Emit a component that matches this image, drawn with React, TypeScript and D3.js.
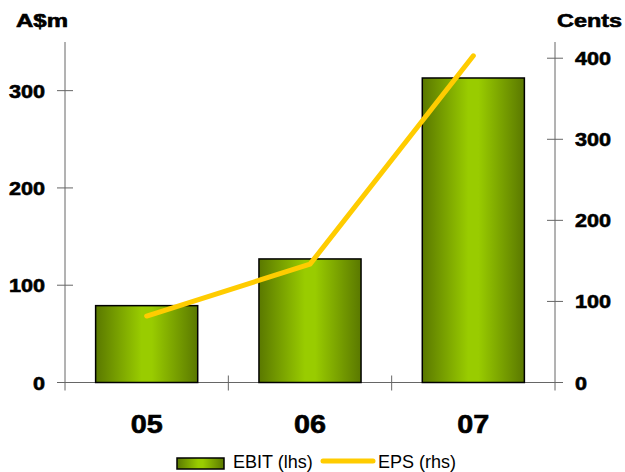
import React, { useEffect, useRef } from "react";
import * as d3 from "d3";

const years = ["05", "06", "07"];
const ebit = [79, 127, 313];
const eps = [82, 146, 403];
const leftTicks = [0, 100, 200, 300];
const rightTicks = [0, 100, 200, 300, 400];

export default function App() {
  const ref = useRef<SVGSVGElement>(null);

  useEffect(() => {
    const svg = d3.select(ref.current);
    svg.selectAll("*").remove();

    const x0 = 65, x1 = 555, y0 = 382.5, yTop = 42;
    const font = "'Liberation Sans', Arial, sans-serif";
    const axisColor = "#666";
    // wide heavy labels, like Arial Black
    const heavy = (sel: any, size: number) =>
      sel.style("font-family", font).style("font-weight", "bold").style("font-size", size + "px")
        .attr("stroke", "#000").attr("stroke-width", 0.6).attr("lengthAdjust", "spacingAndGlyphs");

    const x = d3.scaleBand().domain(years).range([x0, x1]).paddingInner(0.375).paddingOuter(0.1875);
    const yL = d3.scaleLinear().domain([0, 350]).range([y0, yTop]);
    const yR = d3.scaleLinear().domain([0, 420]).range([y0, yTop]);

    const defs = svg.append("defs");
    const grad = defs.append("linearGradient").attr("id", "barGrad").attr("x1", "0").attr("x2", "1").attr("y1", "0").attr("y2", "0");
    grad.append("stop").attr("offset", "0%").attr("stop-color", "#5a7800");
    grad.append("stop").attr("offset", "45%").attr("stop-color", "#99cc00");
    grad.append("stop").attr("offset", "55%").attr("stop-color", "#99cc00");
    grad.append("stop").attr("offset", "100%").attr("stop-color", "#5a7800");

    // axis lines
    svg.append("line").attr("x1", x0).attr("x2", x0).attr("y1", yTop).attr("y2", y0 + 8).attr("stroke", axisColor);
    svg.append("line").attr("x1", x1).attr("x2", x1).attr("y1", yTop).attr("y2", y0 + 8).attr("stroke", axisColor);
    svg.append("line").attr("x1", x0 - 8).attr("x2", x1 + 8).attr("y1", y0).attr("y2", y0).attr("stroke", axisColor);

    // bars
    svg.selectAll(".bar").data(years).join("rect").attr("class", "bar")
      .attr("x", d => x(d)!)
      .attr("y", (d, i) => yL(ebit[i]))
      .attr("width", x.bandwidth())
      .attr("height", (d, i) => y0 - yL(ebit[i]))
      .attr("fill", "url(#barGrad)")
      .attr("stroke", "#000").attr("stroke-width", 1.5);

    // left ticks
    svg.selectAll(".lt").data(leftTicks).join("line").attr("class", "lt")
      .attr("x1", x0 - 8).attr("x2", x0 + 8).attr("y1", d => yL(d)).attr("y2", d => yL(d)).attr("stroke", axisColor);
    heavy(svg.selectAll(".ltl").data(leftTicks).join("text").attr("class", "ltl")
      .attr("x", 45).attr("y", d => yL(d) + 7).attr("text-anchor", "end")
      .attr("textLength", d => String(d).length * 12), 18.5).text(d => d);

    // right ticks
    svg.selectAll(".rt").data(rightTicks).join("line").attr("class", "rt")
      .attr("x1", x1 - 8).attr("x2", x1 + 8).attr("y1", d => yR(d)).attr("y2", d => yR(d)).attr("stroke", axisColor);
    heavy(svg.selectAll(".rtl").data(rightTicks).join("text").attr("class", "rtl")
      .attr("x", 575).attr("y", d => yR(d) + 7).attr("text-anchor", "start")
      .attr("textLength", d => String(d).length * 12), 18.5).text(d => d);

    // category ticks between bands
    const sep = years.slice(1).map(d => x(d)! - x.step() * x.paddingInner() / 2);
    svg.selectAll(".ct").data(sep).join("line").attr("class", "ct")
      .attr("x1", d => d).attr("x2", d => d).attr("y1", y0 - 7).attr("y2", y0 + 8).attr("stroke", axisColor);
    heavy(svg.selectAll(".cl").data(years).join("text").attr("class", "cl")
      .attr("x", d => x(d)! + x.bandwidth() / 2 - 16).attr("y", 433)
      .attr("textLength", 32), 25).text(d => d);

    // EPS line
    const line = d3.line<number>()
      .x((d, i) => x(years[i])! + x.bandwidth() / 2)
      .y(d => yR(d));
    svg.append("path").attr("d", line(eps)).attr("fill", "none")
      .attr("stroke", "#ffcc00").attr("stroke-width", 5).attr("stroke-linecap", "round").attr("stroke-linejoin", "round");

    // axis titles
    heavy(svg.append("text").attr("x", 16).attr("y", 27).attr("textLength", 52), 18.5).text("A$m");
    heavy(svg.append("text").attr("x", 557).attr("y", 27).attr("textLength", 65), 18.5).text("Cents");

    // legend
    svg.append("rect").attr("x", 177).attr("y", 458).attr("width", 47).attr("height", 11)
      .attr("fill", "url(#barGrad)").attr("stroke", "#000").attr("stroke-width", 1.5);
    svg.append("text").attr("x", 233).attr("y", 468).style("font-family", font).style("font-size", "18px").text("EBIT (lhs)");
    svg.append("line").attr("x1", 323).attr("x2", 373).attr("y1", 461).attr("y2", 461)
      .attr("stroke", "#ffcc00").attr("stroke-width", 5).attr("stroke-linecap", "round");
    svg.append("text").attr("x", 378).attr("y", 468).style("font-family", font).style("font-size", "18px").text("EPS (rhs)");
  }, []);

  return (
    <svg ref={ref} width={625} height={472} style={{ position: "absolute", left: 0, top: 0, background: "#fff" }} />
  );
}
